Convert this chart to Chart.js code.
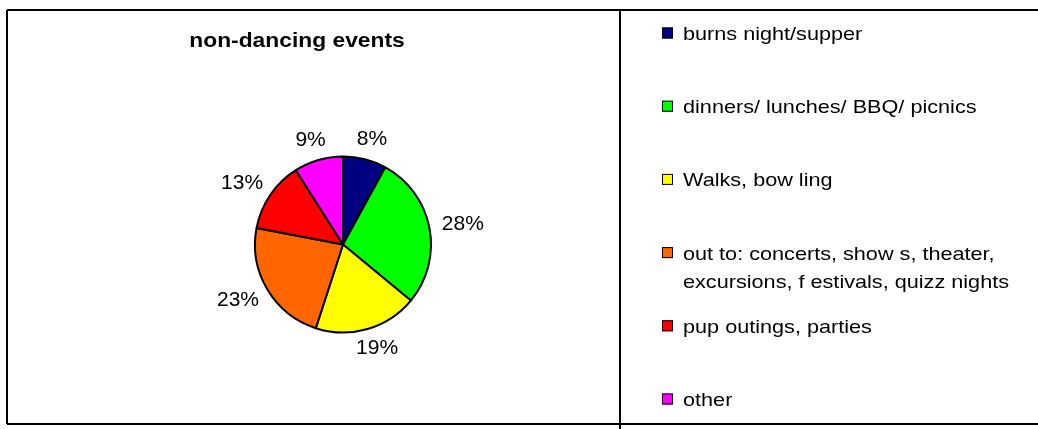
<!DOCTYPE html>
<html>
<head>
<meta charset="utf-8">
<script src="https://cdn.jsdelivr.net/npm/chart.js@4"></script>
<style>
  html, body { margin: 0; padding: 0; background: #fff; }
  #wrap { width: 1038px; height: 429px; position: relative; }
</style>
</head>
<body>
<div id="wrap"><canvas id="chart"></canvas></div>
<script>
// Chart data
const chartTitle = 'non-dancing events'
const categories = [
  'burns night/supper',
  'dinners/ lunches/ BBQ/ picnics',
  'Walks, bow ling',
  'out to: concerts, show s, theater,\nexcursions, f estivals, quizz nights',
  'pup outings, parties',
  'other'
]
const values = [8, 28, 19, 23, 13, 9]
const sliceColors = ['#000080', '#00ff00', '#ffff00', '#ff6600', '#ff0000', '#ff00ff']

const FONT = "'Liberation Sans', Arial, sans-serif"
const STRETCH = 1.17 // the original text is drawn a little wide

// frame, title and the right-hand legend
const framePlugin = {
  id: 'frame',
  beforeDraw(chart) {
    const ctx = chart.ctx
    ctx.save()
    ctx.fillStyle = '#fff'
    ctx.fillRect(0, 0, chart.width, chart.height)
    ctx.strokeStyle = '#000'
    ctx.lineWidth = 2
    ctx.beginPath()
    ctx.moveTo(7, 10); ctx.lineTo(chart.width, 10)
    ctx.moveTo(7, 10); ctx.lineTo(7, 424)
    ctx.moveTo(7, 424); ctx.lineTo(chart.width, 424)
    ctx.moveTo(620, 10); ctx.lineTo(620, chart.height)
    ctx.stroke()
    ctx.restore()
  },
  afterDraw(chart) {
    const ctx = chart.ctx
    ctx.save()
    // title
    ctx.fillStyle = '#000'
    ctx.textAlign = 'center'
    ctx.textBaseline = 'alphabetic'
    ctx.font = 'bold 19.5px ' + FONT
    ctx.translate(297, 47)
    ctx.scale(STRETCH, 1)
    ctx.fillText(chartTitle, 0, 0)
    ctx.restore()

    // legend
    ctx.save()
    ctx.font = '18.5px ' + FONT
    ctx.textAlign = 'left'
    ctx.textBaseline = 'alphabetic'
    categories.forEach((cat, i) => {
      const cy = 33 + i * 73.2
      ctx.fillStyle = sliceColors[i]
      ctx.fillRect(662, cy - 5.5, 11, 11)
      ctx.strokeStyle = '#000'
      ctx.lineWidth = 1
      ctx.strokeRect(662.5, cy - 5, 10, 10)
      ctx.fillStyle = '#000'
      cat.split('\n').forEach((line, j) => {
        ctx.save()
        ctx.translate(683, cy + 7 + j * 28)
        ctx.scale(STRETCH, 1)
        ctx.fillText(line, 0, 0)
        ctx.restore()
      })
    })
    ctx.restore()
  }
}

// percentage labels outside each slice, box pushed out along the slice direction
const pctLabels = {
  id: 'pctLabels',
  afterDatasetsDraw(chart) {
    const ctx = chart.ctx
    const meta = chart.getDatasetMeta(0)
    const total = values.reduce((a, b) => a + b, 0)
    ctx.save()
    ctx.font = '21px ' + FONT
    ctx.fillStyle = '#000'
    ctx.textAlign = 'center'
    ctx.textBaseline = 'middle'
    meta.data.forEach((arc, i) => {
      const p = arc.getProps(['x', 'y', 'startAngle', 'endAngle', 'outerRadius'], true)
      const mid = (p.startAngle + p.endAngle) / 2
      const r = p.outerRadius + 13
      const txt = Math.round(values[i] / total * 100) + '%'
      const w = ctx.measureText(txt).width
      const h = 15
      const dx = Math.cos(mid), dy = Math.sin(mid)
      ctx.fillText(txt, p.x + dx * r + dx * w / 2, p.y + dy * r + dy * h / 2)
    })
    ctx.restore()
  }
}

const ctx = document.getElementById('chart').getContext('2d')
new Chart(ctx, {
  type: 'pie',
  data: {
    labels: categories,
    datasets: [{
      data: values,
      backgroundColor: sliceColors,
      borderColor: '#000',
      borderWidth: 2
    }]
  },
  options: {
    responsive: true,
    maintainAspectRatio: false,
    animation: false,
    layout: {
      padding: { left: 254, right: 606, top: 155, bottom: 95 }
    },
    plugins: {
      legend: { display: false },
      title: { display: false },
      tooltip: { enabled: false }
    }
  },
  plugins: [framePlugin, pctLabels]
})
</script>
</body>
</html>
